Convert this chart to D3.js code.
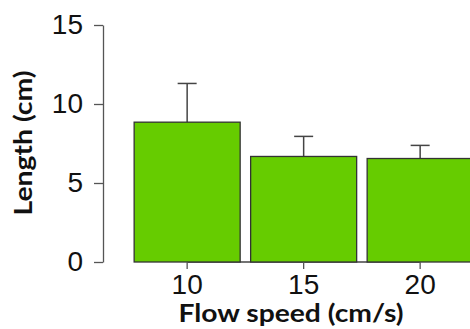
<!DOCTYPE html>
<html>
<head>
<meta charset="utf-8">
<script src="https://cdn.jsdelivr.net/npm/d3@7"></script>
<style>
  body { margin: 0; background: #fff; }
  svg { display: block; }
</style>
</head>
<body>
<svg width="470" height="329"></svg>
<script>
// flow speed groups and measured lengths
var speeds = ["10", "15", "20"];
var meanLength = [8.85, 6.68, 6.55];
var errLength = [2.45, 1.27, 0.83];
var yTicks = [0, 5, 10, 15];

var svg = d3.select("svg"),
    width = +svg.attr("width"),
    height = +svg.attr("height");

var y = d3.scaleLinear()
    .domain([0, 15])
    .range([262, 25]);

var x = d3.scaleBand()
    .domain(speeds)
    .range([128.9, 478.4])
    .paddingInner(0.09)
    .paddingOuter(0.045);

var barColor = "#66cc00",
    lineColor = "#444";

// x axis line runs only between the first and last tick
svg.append("line")
    .attr("x1", x("10") + x.bandwidth() / 2)
    .attr("x2", x("20") + x.bandwidth() / 2)
    .attr("y1", y(0))
    .attr("y2", y(0))
    .attr("stroke", lineColor)
    .attr("stroke-width", 1.3);

var bars = svg.selectAll(".bar")
    .data(speeds)
    .enter().append("g")
    .attr("class", "bar");

// error bars (upper only)
bars.append("line")
    .attr("x1", function(d) { return x(d) + x.bandwidth() / 2; })
    .attr("x2", function(d) { return x(d) + x.bandwidth() / 2; })
    .attr("y1", function(d, i) { return y(meanLength[i]); })
    .attr("y2", function(d, i) { return y(meanLength[i] + errLength[i]); })
    .attr("stroke", lineColor)
    .attr("stroke-width", 1.5);

bars.append("line")
    .attr("x1", function(d) { return x(d) + x.bandwidth() / 2 - 9.5; })
    .attr("x2", function(d) { return x(d) + x.bandwidth() / 2 + 9.5; })
    .attr("y1", function(d, i) { return y(meanLength[i] + errLength[i]); })
    .attr("y2", function(d, i) { return y(meanLength[i] + errLength[i]); })
    .attr("stroke", lineColor)
    .attr("stroke-width", 1.5);

bars.append("rect")
    .attr("x", function(d) { return x(d); })
    .attr("y", function(d, i) { return y(meanLength[i]); })
    .attr("width", x.bandwidth())
    .attr("height", function(d, i) { return y(0) - y(meanLength[i]); })
    .attr("fill", barColor)
    .attr("stroke", "#333")
    .attr("stroke-width", 1.3);

// y axis
var yAxis = svg.append("g")
    .attr("transform", "translate(103,0)")
    .call(d3.axisLeft(y)
        .tickValues(yTicks)
        .tickSize(9)
        .tickSizeOuter(0)
        .tickPadding(11));

yAxis.select(".domain").attr("stroke", "#555").attr("stroke-width", 1.3);
yAxis.selectAll(".tick line").attr("stroke", "#555").attr("stroke-width", 1.3);
yAxis.selectAll("text")
    .attr("fill", "#111")
    .style("font-family", "'Liberation Sans', Arial, sans-serif")
    .style("font-size", "28px");

// x axis ticks and labels
var xAxis = svg.append("g")
    .attr("transform", "translate(0," + y(0) + ")")
    .call(d3.axisBottom(x)
        .tickSize(7)
        .tickSizeOuter(0)
        .tickPadding(5));

xAxis.select(".domain").remove();
xAxis.selectAll(".tick line").attr("stroke", "#555").attr("stroke-width", 1.3);
xAxis.selectAll("text")
    .attr("fill", "#111")
    .style("font-family", "'Liberation Sans', Arial, sans-serif")
    .style("font-size", "28px");

// titles
svg.append("text")
    .attr("x", 291)
    .attr("y", 322)
    .attr("text-anchor", "middle")
    .attr("textLength", 225)
    .attr("lengthAdjust", "spacingAndGlyphs")
    .style("font-family", "Lato, 'Open Sans', sans-serif")
    .style("font-weight", "bold")
    .style("font-size", "25px")
    .attr("fill", "#111")
    .text("Flow speed (cm/s)");

svg.append("text")
    .attr("transform", "translate(32,143) rotate(-90)")
    .attr("text-anchor", "middle")
    .attr("textLength", 145)
    .attr("lengthAdjust", "spacingAndGlyphs")
    .style("font-family", "Lato, 'Open Sans', sans-serif")
    .style("font-weight", "bold")
    .style("font-size", "25px")
    .attr("fill", "#111")
    .text("Length (cm)");
</script>
</body>
</html>
